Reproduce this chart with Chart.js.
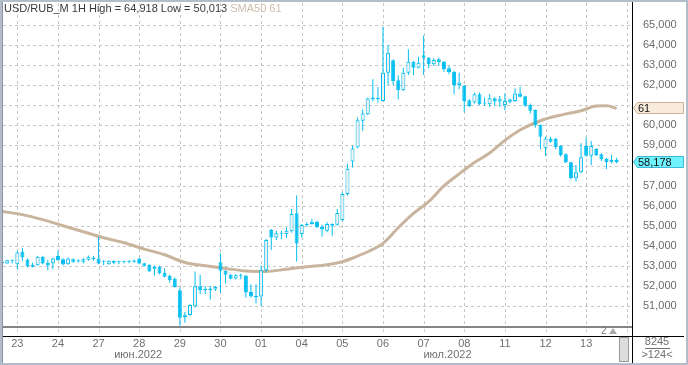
<!DOCTYPE html>
<html>
<head>
<meta charset="utf-8">
<title>USD/RUB_M 1H</title>
<script src="https://cdn.jsdelivr.net/npm/chart.js@4.4.1/dist/chart.umd.min.js"></script>
<style>
  html, body { margin: 0; padding: 0; background: #fff; }
  #grafico { display: block; }
</style>
</head>
<body>
<canvas id="grafico" width="688" height="365"></canvas>
<script>
// Velas USD/RUB_M 1H (indice 0 = primera barra visible)
let opens = [
    53120, 53117, 53300, 53083, 53700, 53300, 53050, 53033, 53450, 53150,
    53133, 53483, 53333, 53083, 53333, 53250, 53200, 53300, 53400, 53367,
    53217, 53083, 53250, 53220, 53210, 53220, 53267, 53350, 53133, 53050,
    52850, 52950, 52650, 52500, 52350, 51783, 50533, 50550, 50983, 51983,
    51830, 51867, 51817, 53183, 52750, 52550, 52367, 52533, 52500, 51700,
    51470, 51467, 52783, 54783, 54417, 54617, 54583, 54717, 55617, 54583,
    55083, 55083, 55200, 54950, 54750, 55083, 55050, 55283, 56583, 58200,
    58898, 60225, 60556, 61386, 61330, 61220, 62629, 63243, 62248, 61750,
    62629, 63176, 62878, 63491, 63375, 63044, 63292, 63176, 62845, 62679,
    62016, 61966, 61253, 61137, 61551, 61100, 61054, 61353, 61187, 61010,
    61176, 61209, 61590, 61458, 61010, 60762, 60016, 58855, 59352, 59319,
    58971, 58556, 58158, 57362, 57661, 58971, 58490, 58822, 58556, 58325,
    58158, 58275
];
let highs = [
    53230, 53300, 53320, 53750, 53883, 53383, 53150, 53500, 53500, 53283,
    53417, 53750, 53383, 53417, 53367, 53317, 53383, 53517, 53483, 54450,
    53283, 53283, 53270, 53250, 53250, 53280, 53317, 53400, 53150, 53083,
    53017, 53017, 52883, 52550, 52417, 51917, 50700, 51083, 52717, 52550,
    52000, 52000, 52000, 53617, 52783, 52583, 52583, 52617, 52550, 52083,
    52080, 53000, 54333, 54833, 54750, 54750, 54917, 55833, 56500, 55083,
    55167, 55333, 55250, 55050, 55167, 55117, 55833, 56667, 58083, 58981,
    60391, 60805, 61386, 62297, 61916, 64918, 64005, 63292, 62496, 62878,
    63790, 63210, 63425, 64486, 63408, 63342, 63375, 63210, 62961, 62712,
    62629, 62016, 61303, 61634, 61634, 61386, 61551, 61386, 61469, 61590,
    61342, 61840, 61922, 61474, 61093, 60795, 60050, 59435, 59435, 59385,
    59020, 58606, 58192, 58026, 59104, 59402, 59220, 58855, 58606, 58391,
    58523, 58391
];
let lows = [
    53100, 53100, 53117, 52833, 53250, 52917, 52917, 53000, 53083, 52783,
    52833, 53250, 53033, 53050, 53150, 53150, 53117, 53250, 53250, 53083,
    53033, 53050, 53083, 53083, 53117, 53130, 53150, 53083, 52967, 52700,
    52500, 52583, 52417, 52150, 51917, 50013, 50167, 50517, 50917, 51583,
    51583, 51317, 51750, 51650, 52117, 52317, 52317, 52333, 51417, 51417,
    51120, 51000, 52667, 53783, 54283, 54333, 54383, 54650, 53217, 54417,
    54950, 55050, 54883, 54450, 54667, 54500, 55000, 55217, 56500, 57904,
    58865, 59727, 60523, 61187, 61137, 61187, 62016, 62016, 61303, 61717,
    62513, 62513, 62845, 62513, 62845, 62961, 62961, 62679, 62546, 61551,
    61800, 60640, 60921, 61087, 61021, 60971, 60921, 60971, 60921, 60760,
    61093, 61176, 61392, 60927, 60596, 59883, 58805, 58474, 59137, 58805,
    58440, 58109, 57313, 57197, 57611, 58440, 58026, 58474, 58225, 57827,
    58109, 58109
];
let closes = [
    53200, 53283, 53250, 53667, 53417, 52967, 52950, 53450, 53117, 53017,
    53367, 53283, 53067, 53367, 53200, 53233, 53333, 53450, 53333, 53117,
    53200, 53250, 53150, 53200, 53200, 53200, 53200, 53117, 53000, 52717,
    52950, 52617, 52450, 52283, 51950, 50417, 50433, 51050, 51983, 51783,
    51800, 51783, 51950, 52750, 52550, 52350, 52533, 52483, 51667, 51467,
    51450, 52783, 54283, 54417, 54617, 54600, 54750, 55583, 54117, 55033,
    55033, 55200, 54917, 54817, 55083, 55000, 55633, 56583, 57833, 58849,
    60258, 60590, 61336, 61320, 61320, 62629, 63624, 62214, 61750, 62629,
    63176, 62878, 63127, 63375, 63044, 63259, 63160, 62795, 62662, 62016,
    62132, 61220, 60971, 61551, 61054, 61087, 61353, 61187, 61303, 61209,
    61292, 61590, 61425, 60977, 60728, 60016, 59435, 59352, 59186, 58905,
    58523, 58158, 57362, 57661, 58407, 58490, 58971, 58523, 58308, 58158,
    58275, 58178
];

let smaIndex = [0, 4, 8, 12, 16, 20, 24, 28, 32, 36, 40, 44, 48, 52, 56, 60, 64, 67, 69, 72,
                75, 78, 81, 84, 87, 90, 93, 96, 99, 102, 106, 110, 114, 117, 119, 121];
let smaValues = [55717, 55550, 55300, 55000, 54700, 54400, 54150, 53833, 53550, 53167,
                 53000, 52870, 52740, 52717, 52833, 52950, 53050, 53200, 53383, 53700,
                 54120, 54900, 55616, 56200, 56980, 57580, 58150, 58620, 59250, 59767,
                 60231, 60513, 60729, 60961, 60977, 60845];

// Etiquetas del eje de tiempo y de precios
let dayLabels = ['23', '24', '27', '28', '29', '30', '01', '04', '05', '06', '07', '08', '11', '12', '13'];
let monthLabels = ['июн.2022', 'июл.2022'];
let priceTicks = [51000, 52000, 53000, 54000, 55000, 56000, 57000, 58000,
                  59000, 60000, 61000, 62000, 63000, 64000, 65000];

let titleText = 'USD/RUB_M 1H High = 64,918 Low = 50,013';
let smaText = 'SMA50 61';
let smaLabel = '61';
let lastPrice = 58178;
let lastPriceText = '58,178';
let barsTotal = '8245';
let barsShown = '>124<';

let CYAN = '#00bef0';
let HOLLOW = '#f0f0f0';
let SMA_COLOR = '#c9b59d';
let GRID = '#c6c6c6';
let FONT = 'Arial, "Liberation Sans", sans-serif';

// Construir los puntos para Chart.js
let wicks = [];
let bodies = [];
let bodyColors = [];
for (let i = 0; i < opens.length; i++) {
    wicks.push({ x: i, y: [lows[i], highs[i]] });
    bodies.push({ x: i, y: [opens[i], closes[i]] });
    bodyColors.push(closes[i] > opens[i] ? HOLLOW : CYAN);
}
let smaPoints = [];
for (let i = 0; i < smaIndex.length; i++) {
    smaPoints.push({ x: smaIndex[i], y: smaValues[i] });
}
let smaLast = smaValues[smaValues.length - 1];

// Lineas verticales cada 8 barras (una por dia)
let gridBars = [];
for (let i = 3; i < 124; i += 8) {
    gridBars.push(i);
}

function priceBox(ctx, y, text, fill, stroke) {
    ctx.beginPath();
    ctx.moveTo(633.5, y);
    ctx.lineTo(637.5, y - 5.5);
    ctx.lineTo(683.5, y - 5.5);
    ctx.lineTo(683.5, y + 5.5);
    ctx.lineTo(637.5, y + 5.5);
    ctx.closePath();
    ctx.fillStyle = fill;
    ctx.fill();
    ctx.strokeStyle = stroke;
    ctx.lineWidth = 1;
    ctx.stroke();
    ctx.fillStyle = '#111';
    ctx.textAlign = 'left';
    ctx.textBaseline = 'middle';
    ctx.fillText(text, 638, y + 0.5);
}

// Rejilla punteada, dibujada antes de las velas
let rejilla = {
    id: 'rejilla',
    beforeDatasetsDraw: function(chart) {
        let ctx = chart.ctx;
        let sx = chart.scales.x;
        let sy = chart.scales.y;
        let area = chart.chartArea;
        ctx.save();
        ctx.strokeStyle = GRID;
        ctx.lineWidth = 1;
        ctx.setLineDash([3, 3]);
        for (let i = 0; i < gridBars.length; i++) {
            let x = Math.round(sx.getPixelForValue(gridBars[i])) + 0.5;
            ctx.beginPath();
            ctx.moveTo(x, area.top);
            ctx.lineTo(x, area.bottom);
            ctx.stroke();
        }
        for (let i = 0; i < priceTicks.length; i++) {
            let y = Math.round(sy.getPixelForValue(priceTicks[i])) + 0.5;
            ctx.beginPath();
            ctx.moveTo(area.left, y);
            ctx.lineTo(area.right, y);
            ctx.stroke();
        }
        ctx.restore();
    }
};

// Todo lo que va fuera del area del grafico
let marcos = {
    id: 'marcos',
    afterDraw: function(chart) {
        let ctx = chart.ctx;
        let sx = chart.scales.x;
        let sy = chart.scales.y;
        let area = chart.chartArea;
        ctx.save();
        ctx.font = '11px ' + FONT;

        // Titulo
        ctx.textAlign = 'left';
        ctx.textBaseline = 'alphabetic';
        ctx.fillStyle = '#3a3a3a';
        ctx.fillText(titleText, 4, 12);
        let ancho = ctx.measureText(titleText + ' ').width;
        ctx.fillStyle = '#cdbca8';
        ctx.fillText(smaText, 4 + ancho, 12);

        // Separadores
        ctx.fillStyle = '#858585';
        ctx.fillRect(area.left, area.bottom, area.right - area.left, 2);
        ctx.fillStyle = '#000';
        ctx.fillRect(area.left, 336, 684 - area.left, 1);
        ctx.fillRect(area.right, 0, 1, 363);

        // Marcas pequenas en la franja inferior
        ctx.fillStyle = '#cfcfcf';
        for (let i = 0; i < gridBars.length; i++) {
            let x = Math.round(sx.getPixelForValue(gridBars[i]));
            ctx.fillRect(x, 329, 1, 3);
        }
        ctx.fillStyle = '#777';
        ctx.font = '10px ' + FONT;
        ctx.textAlign = 'left';
        ctx.textBaseline = 'middle';
        ctx.fillText('2', 601, 331);
        ctx.fillStyle = '#a8a8a8';
        ctx.beginPath();
        ctx.moveTo(609, 334);
        ctx.lineTo(613, 328);
        ctx.lineTo(617, 334);
        ctx.closePath();
        ctx.fill();

        // Dias y meses
        ctx.font = '11px ' + FONT;
        ctx.fillStyle = '#707070';
        ctx.textAlign = 'center';
        for (let i = 0; i < dayLabels.length; i++) {
            ctx.fillText(dayLabels[i], sx.getPixelForValue(gridBars[i]), 344);
        }
        ctx.fillText(monthLabels[0], sx.getPixelForValue(26.8), 355);
        ctx.fillText(monthLabels[1], sx.getPixelForValue(87.7), 355);

        // Barra de desplazamiento
        ctx.fillStyle = '#dcdcdc';
        ctx.fillRect(619.5, 337.5, 9, 24);
        ctx.strokeStyle = '#9a9a9a';
        ctx.lineWidth = 1;
        ctx.strokeRect(619.5, 337.5, 9, 24);

        // Contador de barras
        ctx.fillStyle = '#707070';
        ctx.fillText(barsTotal, 657, 342);
        ctx.fillRect(645, 348, 25, 1);
        ctx.fillText(barsShown, 657, 355);

        // Cajas de precio a la derecha
        priceBox(ctx, Math.round(sy.getPixelForValue(smaLast)), smaLabel, '#f8ebdc', '#c9b49a');
        priceBox(ctx, Math.round(sy.getPixelForValue(lastPrice)), lastPriceText, '#70f2ff', '#3fb8d8');

        // Marco exterior
        ctx.strokeStyle = '#b3bdca';
        ctx.lineWidth = 2;
        ctx.strokeRect(1, 1, 686, 363);
        ctx.fillStyle = '#8a95a5';
        ctx.fillRect(2, 2, 1, 361);
        ctx.restore();
    }
};

let ctx = document.getElementById('grafico').getContext('2d');
let miGrafico = new Chart(ctx, {
    type: 'bar',
    data: {
        datasets: [
            {
                type: 'line',
                data: smaPoints,
                borderColor: SMA_COLOR,
                borderWidth: 3,
                pointRadius: 0,
                tension: 0.4,
                cubicInterpolationMode: 'monotone',
                order: 3
            },
            {
                type: 'bar',
                data: wicks,
                backgroundColor: CYAN,
                barThickness: 1,
                grouped: false,
                inflateAmount: 0,
                order: 2
            },
            {
                type: 'bar',
                data: bodies,
                backgroundColor: bodyColors,
                borderColor: CYAN,
                borderWidth: 1,
                borderSkipped: false,
                barThickness: 4,
                minBarLength: 1,
                grouped: false,
                inflateAmount: 0,
                order: 1
            }
        ]
    },
    options: {
        responsive: false,
        animation: false,
        devicePixelRatio: 1,
        events: [],
        layout: { padding: { left: 3, top: 3, right: 0, bottom: 0 } },
        plugins: {
            legend: { display: false },
            tooltip: { enabled: false }
        },
        scales: {
            x: {
                type: 'linear',
                min: 0.18,
                max: 124.03,
                offset: false,
                afterBuildTicks: function(scale) {
                    scale.ticks = gridBars.map(function(v) { return { value: v }; });
                },
                afterFit: function(scale) {
                    scale.height = 39;
                    scale.paddingLeft = 0;
                    scale.paddingRight = 0;
                },
                grid: { display: false },
                border: { display: false },
                ticks: { display: false }
            },
            y: {
                position: 'right',
                min: 50000,
                max: 66100,
                afterBuildTicks: function(scale) {
                    scale.ticks = priceTicks.map(function(v) { return { value: v }; });
                },
                afterFit: function(scale) {
                    scale.width = 56;
                    scale.paddingTop = 0;
                    scale.paddingBottom = 0;
                },
                grid: { display: false },
                border: { display: false },
                ticks: {
                    padding: 3,
                    color: '#6b6b6b',
                    font: { family: FONT, size: 11 },
                    callback: function(v) {
                        // las cajas de precio tapan estas etiquetas
                        if (Math.abs(v - smaLast) < 600 || Math.abs(v - lastPrice) < 600) {
                            return '';
                        }
                        return v.toLocaleString('en-US');
                    }
                }
            }
        }
    },
    plugins: [rejilla, marcos]
});
</script>
</body>
</html>
